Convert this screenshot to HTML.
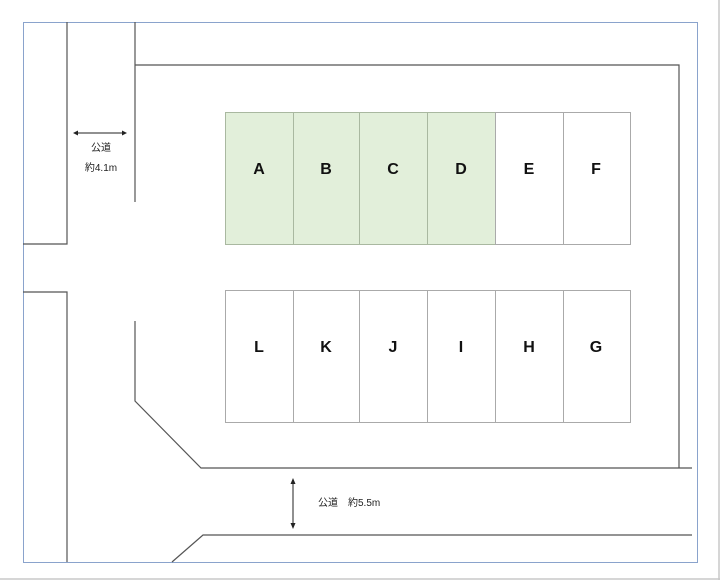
<!DOCTYPE html>
<html><head><meta charset="utf-8"><style>
html,body{margin:0;padding:0;background:#fff;}
svg{display:block;}
text{font-family:"Liberation Sans","Noto Sans CJK JP",sans-serif;}
</style></head><body>
<svg width="720" height="580" viewBox="0 0 720 580" xmlns="http://www.w3.org/2000/svg">
<rect x="0" y="0" width="720" height="580" fill="#fff"/>
<line x1="0" y1="579" x2="720" y2="579" stroke="#c8c8c8" stroke-width="1.5"/>
<line x1="719" y1="0" x2="719" y2="580" stroke="#c8c8c8" stroke-width="1.5"/>
<rect x="23.5" y="22.5" width="674" height="540" fill="none" stroke="#8aa3cc" stroke-width="1"/>
<g fill="none" stroke="#555" stroke-width="1.2">
<polyline points="67,22 67,244 23,244"/>
<polyline points="135,22 135,202"/>
<polyline points="135,65 679,65 679,468"/>
<polyline points="23,292 67,292 67,562"/>
<polyline points="135,321 135,401 201,468 692,468"/>
<polyline points="172,562 203,535 692,535"/>
</g>
<g stroke="#aaa" stroke-width="1">
<rect x="225.5" y="112.5" width="270" height="132" fill="#e2efda" stroke="#a9b8a0"/>
<rect x="495.5" y="112.5" width="135" height="132" fill="#fff"/>
<line x1="293.5" y1="112" x2="293.5" y2="245" stroke="#a9b8a0"/>
<line x1="359.5" y1="112" x2="359.5" y2="245" stroke="#a9b8a0"/>
<line x1="427.5" y1="112" x2="427.5" y2="245" stroke="#a9b8a0"/>
<line x1="563.5" y1="112" x2="563.5" y2="245"/>
<rect x="225.5" y="290.5" width="405" height="132" fill="#fff"/>
<line x1="293.5" y1="290" x2="293.5" y2="423"/>
<line x1="359.5" y1="290" x2="359.5" y2="423"/>
<line x1="427.5" y1="290" x2="427.5" y2="423"/>
<line x1="495.5" y1="290" x2="495.5" y2="423"/>
<line x1="563.5" y1="290" x2="563.5" y2="423"/>
</g>
<g font-size="16" font-weight="bold" text-anchor="middle" fill="#111">
<text x="259" y="174">A</text><text x="326" y="174">B</text><text x="393" y="174">C</text>
<text x="461" y="174">D</text><text x="529" y="174">E</text><text x="596" y="174">F</text>
<text x="259" y="352">L</text><text x="326" y="352">K</text><text x="393" y="352">J</text>
<text x="461" y="352">I</text><text x="529" y="352">H</text><text x="596" y="352">G</text>
</g>
<g stroke="#222" stroke-width="1">
<line x1="76" y1="133" x2="124" y2="133"/>
<line x1="293" y1="482" x2="293" y2="525"/>
</g>
<g fill="#222">
<polygon points="73,133 78,130.5 78,135.5"/>
<polygon points="127,133 122,130.5 122,135.5"/>
<polygon points="293,478 290.5,484 295.5,484"/>
<polygon points="293,529 290.5,523 295.5,523"/>
</g>
<g font-size="10" fill="#222">
<text x="101" y="151" text-anchor="middle">公道</text>
<text x="101" y="171" text-anchor="middle">約4.1m</text>
<text x="318" y="506">公道　約5.5m</text>
</g>
</svg>
</body></html>
